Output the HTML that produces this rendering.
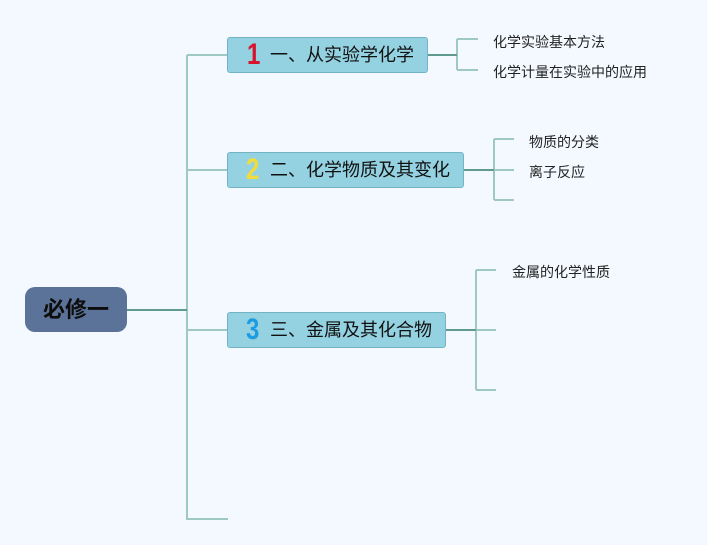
<!DOCTYPE html>
<html><head><meta charset="utf-8"><style>
html,body{margin:0;padding:0;}
body{width:707px;height:545px;background:#f4f9ff;position:relative;overflow:hidden;font-family:"Liberation Sans","Noto Sans CJK SC",sans-serif;}
.root{position:absolute;left:25px;top:287px;width:102px;height:45px;background:#5b7398;border-radius:10px;box-sizing:border-box;text-align:center;line-height:45px;font-size:22px;font-weight:bold;color:#0d0d0d;}
.node{position:absolute;left:227px;height:36px;background:#94d2e2;border:1px solid #72b4c4;border-radius:3px;box-sizing:border-box;color:#111;font-size:18px;line-height:34px;white-space:nowrap;}
.num{position:absolute;left:18px;top:0;font-weight:bold;font-size:30px;line-height:34px;font-family:"Liberation Sans",sans-serif;transform:scaleX(0.8);transform-origin:left center;}
.lbl{position:absolute;left:42px;top:0;}
.leaf{position:absolute;font-size:14px;color:#222;white-space:nowrap;line-height:18px;}
svg{position:absolute;left:0;top:0;}
</style></head><body>
<svg width="707" height="545">
<g stroke="#9dc9c2" stroke-width="2" fill="none">
<path d="M187 55 V520 M187 55 H227 M187 170 H227 M187 330 H227 M187 519 H228"/>
<path d="M457 39 V70 M457 39 H478 M457 70 H478"/>
<path d="M494 139 V200 M494 139 H514 M494 170 H514 M494 200 H514"/>
<path d="M476 270 V390 M476 270 H496 M476 330 H496 M476 390 H496"/>
</g>
<g stroke="#5f9a8c" stroke-width="2" fill="none">
<path d="M127 310 H187"/>
<path d="M428 55 H457"/>
<path d="M464 170 H494"/>
<path d="M446 330 H476"/>
</g>
</svg>
<div class="root">必修一</div>
<div class="node" style="top:37px;width:201px;"><span class="num" style="color:#d8142c;left:19px;">1</span><span class="lbl">一、从实验学化学</span></div>
<div class="node" style="top:152px;width:237px;"><span class="num" style="color:#f2dc3c;">2</span><span class="lbl">二、化学物质及其变化</span></div>
<div class="node" style="top:312px;width:219px;"><span class="num" style="color:#1e9ce0;">3</span><span class="lbl">三、金属及其化合物</span></div>
<div class="leaf" style="left:493px;top:33px;">化学实验基本方法</div>
<div class="leaf" style="left:493px;top:63px;">化学计量在实验中的应用</div>
<div class="leaf" style="left:529px;top:133px;">物质的分类</div>
<div class="leaf" style="left:529px;top:163px;">离子反应</div>
<div class="leaf" style="left:512px;top:263px;">金属的化学性质</div>
</body></html>
